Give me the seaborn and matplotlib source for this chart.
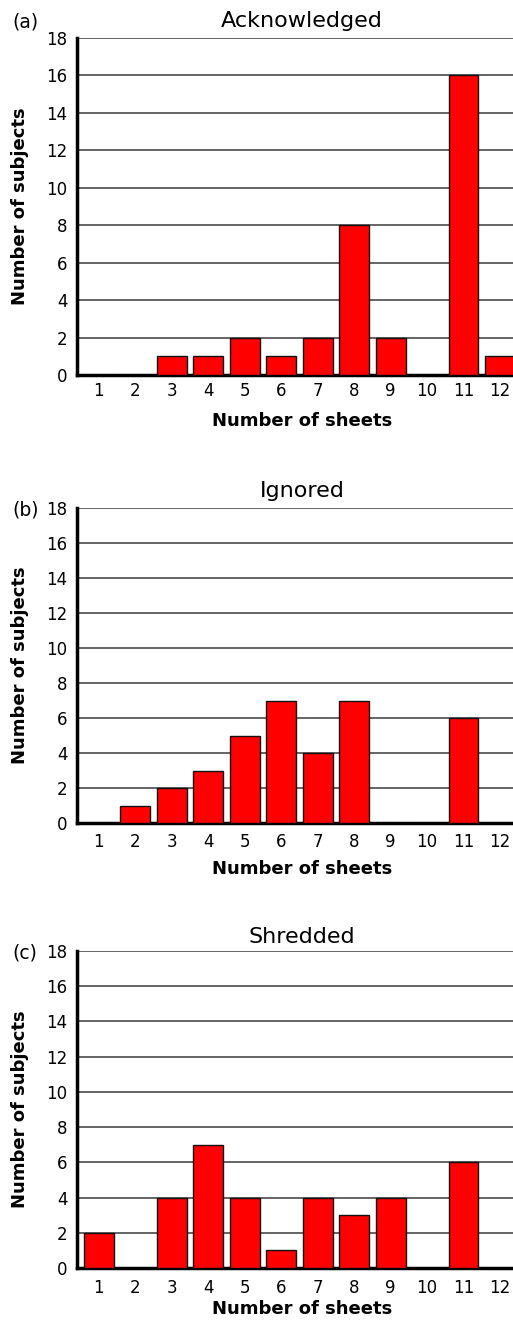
import matplotlib
matplotlib.use("Agg")
import matplotlib.pyplot as plt
import seaborn as sns
import pandas as pd

# Data
sheets = ["1", "2", "3", "4", "5", "6", "7", "8", "9", "10", "11", "12"]
acknowledged = [0, 0, 1, 1, 2, 1, 2, 8, 2, 0, 16, 1]
ignored = [0, 1, 2, 3, 5, 7, 4, 7, 0, 0, 6, 0]
shredded = [2, 0, 4, 7, 4, 1, 4, 3, 4, 0, 6, 0]

panels = [
    ("(a)", "Acknowledged", acknowledged),
    ("(b)", "Ignored", ignored),
    ("(c)", "Shredded", shredded),
]

sns.set_style("white")
plt.rcParams["font.family"] = ["DejaVu Sans"]
plt.rcParams["text.color"] = "black"
plt.rcParams["axes.labelcolor"] = "black"

W, H = 513, 1322
fig = plt.figure(figsize=(W / 100, H / 100), dpi=100)

# axes boxes in pixels: (top, bottom) of the plotting area, plus per-panel spacing
boxes = [(38, 375), (508, 823), (951, 1268)]
title_pads = [8, 8, 6]
xtick_pads = [5, 7, 8]
xlabel_pads = [9, 7, 2]
tag_y = [22, 510, 953]
left_px, right_px = 77, 527

for i, (tag, title, vals) in enumerate(panels):
    top, bot = boxes[i]
    ax = fig.add_axes([left_px / W, 1 - bot / H, (right_px - left_px) / W, (bot - top) / H])
    df = pd.DataFrame({"sheets": sheets, "subjects": vals})
    sns.barplot(data=df, x="sheets", y="subjects", color="#ff0000", saturation=1,
                edgecolor="#111111", linewidth=1.0, width=0.82, ax=ax, zorder=3)
    ax.set_ylim(0, 18)
    ax.set_yticks(range(0, 19, 2))
    ax.set_xlim(-0.6, 11.74)
    ax.yaxis.grid(True, color="#3a3a3a", linewidth=1.1, zorder=0)
    ax.set_axisbelow(True)
    for s in ["top", "right"]:
        ax.spines[s].set_visible(False)
    for s in ["left", "bottom"]:
        ax.spines[s].set_linewidth(2.5)
        ax.spines[s].set_color("black")
    ax.tick_params(axis="both", length=0, labelsize=12, colors="black")
    ax.tick_params(axis="y", pad=7)
    ax.tick_params(axis="x", pad=xtick_pads[i])
    ax.set_xlabel("Number of sheets", fontsize=13, fontweight="bold",
                  labelpad=xlabel_pads[i], color="black")
    ax.set_ylabel("Number of subjects", fontsize=13, fontweight="bold",
                  labelpad=12, color="black")
    ax.set_title(title, fontsize=16, pad=title_pads[i], color="black")
    fig.text(12 / W, 1 - tag_y[i] / H, tag, fontsize=13.5, ha="left", va="center",
             color="black")

fig.savefig("out.png", dpi=100)
